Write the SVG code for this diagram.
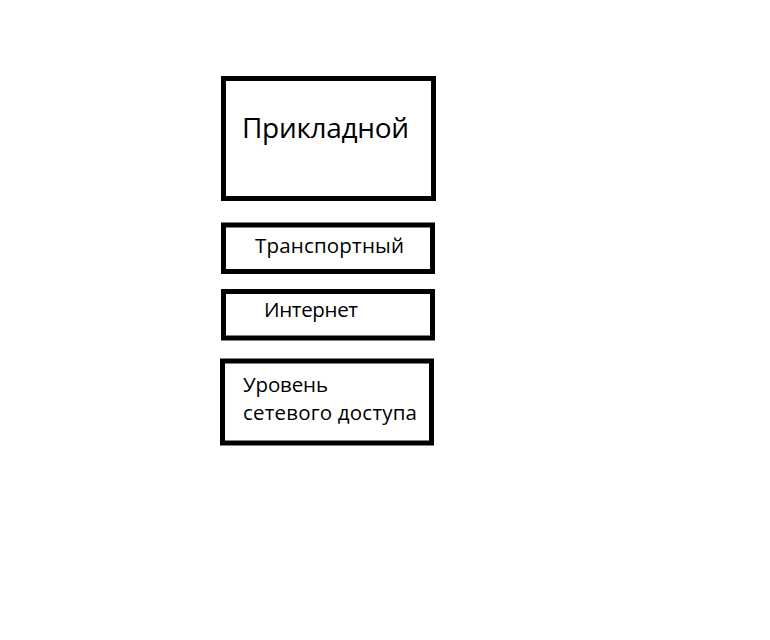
<svg xmlns="http://www.w3.org/2000/svg" width="770" height="640" viewBox="0 0 770 640">
<style>
.box{fill:#fff;stroke:#000;stroke-width:5}
.t{font-family:"Open Sans","Noto Sans","DejaVu Sans",sans-serif;fill:#000}
.s{font-size:20.5px}
.l{font-size:28px}
</style>
<rect width="770" height="640" fill="#fff"/>
<g id="connectors"></g>
<g id="app"><rect class="box" x="223.5" y="78.5" width="210" height="120"/><text class="t l" x="242" y="138" textLength="167">Прикладной</text></g>
<g id="transport"><rect class="box" x="223.5" y="225" width="209" height="46.5"/><text class="t s" x="255" y="253" textLength="149">Транспортный</text></g>
<g id="internet"><rect class="box" x="223.5" y="291.5" width="209" height="46.5"/><text class="t s" x="264" y="317" textLength="94">Интернет</text></g>
<g id="access"><rect class="box" x="222.5" y="361" width="209" height="82"/><text class="t s" x="243" y="392" textLength="85">Уровень</text><text class="t s" x="243" y="420" textLength="174">сетевого доступа</text></g>
</svg>
